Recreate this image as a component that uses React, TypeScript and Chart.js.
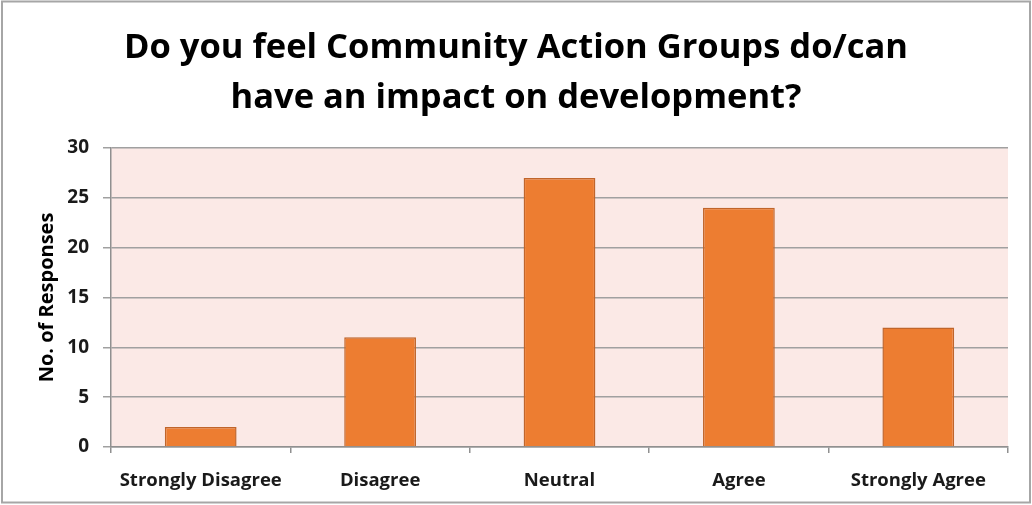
import React, { useEffect, useRef } from "react";
import { Chart, registerables } from "chart.js";

Chart.register(...registerables);

const categories = ["Strongly Disagree", "Disagree", "Neutral", "Agree", "Strongly Agree"];
const responses = [2, 11, 27, 24, 12];
const titleLines = ["Do you feel Community Action Groups do/can", "have an impact on development?"];
const yAxisTitle = "No. of Responses";

const FONT = "'Open Sans', Lato, sans-serif";

const bgPlugin = {
  id: "bgPlugin",
  beforeDraw(chart: any) {
    const { ctx, chartArea } = chart;
    ctx.save();
    ctx.fillStyle = "#ffffff";
    ctx.fillRect(0, 0, chart.width, chart.height);
    ctx.fillStyle = "#fbe9e6";
    ctx.fillRect(chartArea.left, chartArea.top, chartArea.right - chartArea.left, chartArea.bottom - chartArea.top);
    ctx.strokeStyle = "#a6a6a6";
    ctx.lineWidth = 2;
    ctx.strokeRect(2, 1.5, 1028, 501);
    ctx.restore();
  },
};

export default function App() {
  const ref = useRef<HTMLCanvasElement | null>(null);
  useEffect(() => {
    if (!ref.current) return;
    const chart = new Chart(ref.current, {
      type: "bar",
      data: {
        labels: categories,
        datasets: [
          {
            data: responses,
            backgroundColor: "#ed7d31",
            borderColor: "#c0652b",
            borderWidth: 1.5,
            barPercentage: 0.4,
            categoryPercentage: 1,
          },
        ],
      },
      options: {
        animation: false,
        responsive: false,
        maintainAspectRatio: false,
        layout: { padding: { left: 0, right: 0, top: 0, bottom: 0 } },
        plugins: {
          legend: { display: false },
          tooltip: { enabled: false },
          title: {
            display: true,
            text: titleLines,
            color: "#000000",
            font: { family: FONT, size: 34.5, weight: "bold", lineHeight: 50 / 34.5 },
            padding: { top: 23, bottom: 25 },
          },
        },
        scales: {
          x: {
            offset: true,
            grid: {
              offset: true,
              drawOnChartArea: false,
              drawTicks: true,
              tickLength: 6,
              color: "#909090",
              lineWidth: 1.5,
            },
            border: { color: "#909090", width: 1.5 },
            ticks: {
              color: "#1a1a1a",
              font: { family: FONT, size: 18.5, weight: "bold" },
              padding: 17,
              maxRotation: 0,
              autoSkip: false,
            },
            afterFit(scale: any) {
              scale.height = 58;
            },
          },
          y: {
            min: 0,
            max: 30,
            ticks: {
              stepSize: 5,
              color: "#1a1a1a",
              font: { family: FONT, size: 19, weight: "bold" },
              padding: 14,
            },
            grid: {
              color: "#a0a0a0",
              lineWidth: 1.5,
              tickLength: 8,
            },
            border: { color: "#909090", width: 1.5 },
            title: {
              display: true,
              text: yAxisTitle,
              color: "#000000",
              font: { family: FONT, size: 20, weight: "bold", lineHeight: 1.2 },
              padding: { top: 35, bottom: 0 },
            },
            afterFit(scale: any) {
              scale.width = 111;
            },
          },
          yRight: {
            position: "right",
            display: true,
            min: 0,
            max: 30,
            grid: { display: false, drawOnChartArea: false, drawTicks: false },
            border: { display: false },
            ticks: { display: false },
            afterFit(scale: any) {
              scale.width = 24;
            },
          },
        },
      },
      plugins: [bgPlugin],
    });
    return () => chart.destroy();
  }, []);
  return (
    <div style={{ position: "absolute", left: 0, top: 0, width: 1032, height: 505 }}>
      <canvas ref={ref} width={1032} height={505} style={{ width: 1032, height: 505, display: "block" }} />
    </div>
  );
}
